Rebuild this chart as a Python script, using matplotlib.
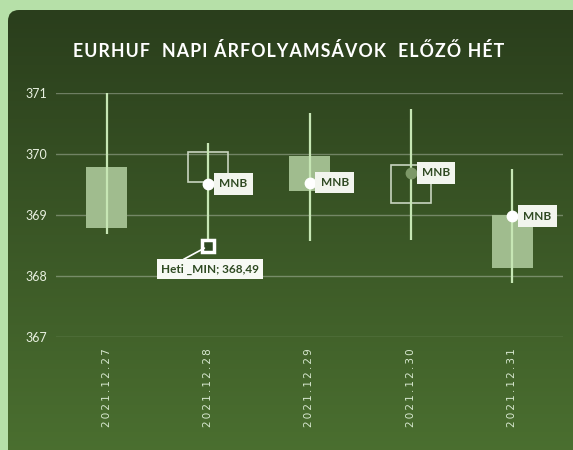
import numpy as np
import matplotlib
matplotlib.use("Agg")
import matplotlib.pyplot as plt
from matplotlib.colors import LinearSegmentedColormap
from matplotlib.patches import FancyBboxPatch

# ---------- data ----------
dates = ["2021.12.27", "2021.12.28", "2021.12.29", "2021.12.30", "2021.12.31"]
opens = [369.79, 369.54, 369.97, 369.20, 369.00]
closes = [368.79, 370.03, 369.40, 369.82, 368.13]
highs = [371.00, 370.18, 370.68, 370.74, 369.75]
lows = [368.69, 368.49, 368.57, 368.59, 367.88]
mnb = [np.nan, 369.51, 369.53, 369.69, 368.98]
week_min_idx = 1
week_min = 368.49

title = "EURHUF  NAPI ÁRFOLYAMSÁVOK  ELŐZŐ HÉT"
plt.rcParams["font.family"] = ["Lato", "DejaVu Sans"]

# ---------- figure + gradient panel ----------
fig = plt.figure(figsize=(5.73, 4.5), dpi=100, facecolor="#b6e0a8")
bg = fig.add_axes([0, 0, 1, 1])
grad = np.linspace(0, 1, 256).reshape(-1, 1)
cmap = LinearSegmentedColormap.from_list("g", ["#2a3e1c", "#4b7030"])
im = bg.imshow(grad, extent=(8, 600, 460, 10), aspect="auto", cmap=cmap)
panel = FancyBboxPatch((8, 10), 620, 480, boxstyle="round,pad=0,rounding_size=11",
                       transform=bg.transData)
im.set_clip_path(panel)
bg.set_xlim(0, 573); bg.set_ylim(450, 0)
bg.axis("off")

# title with a bit of letter spacing (hair spaces between letters)
fig.text(0.503, 0.887, "\u200a".join(title), color="white", fontsize=12.8,
         fontweight="bold", ha="center", va="center")

# ---------- chart ----------
ax = fig.add_axes([56 / 573, 1 - 337 / 450, 507 / 573, 244 / 450])
ax.set_facecolor("none")
x = np.arange(len(dates))
ax.set_xlim(-0.5, len(dates) - 0.5)
ax.set_ylim(367, 371)
ax.set_yticks([367, 368, 369, 370, 371])
ax.grid(axis="y", color="white", alpha=0.3, lw=1)
ax.set_axisbelow(True)
for s in ax.spines.values():
    s.set_visible(False)
ax.tick_params(length=0)
ax.tick_params(axis="y", colors="#e8f0e0", labelsize=9, pad=6)
ax.set_xticks(x)
ax.set_xticklabels(["\u2009".join(d) for d in dates], rotation=90, fontsize=7.5,
                   color="#d8e8d0", va="top", family="DejaVu Sans")
ax.tick_params(axis="x", pad=8)

# candles: filled = falling day, hollow = rising day
for i in x:
    o, c = opens[i], closes[i]
    if c < o:
        ax.bar(i, o - c, bottom=c, width=0.4, color="#a0bc8e", zorder=2)
    else:
        ax.bar(i, c - o, bottom=o, width=0.4, facecolor="none",
               edgecolor="#c8d4c0", lw=1.2, zorder=2)
ax.vlines(x, lows, highs, color="#c6e6b4", lw=1.6, zorder=3)

# MNB fixing points
for i in x:
    if np.isnan(mnb[i]):
        continue
    col = "#7d9868" if i == 3 else "white"
    ax.plot(i, mnb[i], "o", ms=7.5, color=col, zorder=4)
    ax.annotate("MNB", (i, mnb[i]), xytext=(11, 0), textcoords="offset pixels",
                ha="left", va="center", fontsize=8.5, fontweight="bold", color="#2f4a22",
                bbox=dict(boxstyle="square,pad=0.45", fc="#f2f5ee", ec="none"), zorder=5)

# weekly minimum callout
ax.plot(week_min_idx, week_min, "s", ms=9, mfc="#2f4a22", mec="white", mew=2.5, zorder=5)
ax.annotate(f"Heti _MIN; {week_min:.2f}".replace(".", ","), (week_min_idx, week_min),
            xytext=(2, -23), textcoords="offset pixels", ha="center", va="center",
            fontsize=8.5, fontweight="bold", color="#2f4a22",
            bbox=dict(boxstyle="square,pad=0.35", fc="#f7f9f4", ec="none"),
            arrowprops=dict(arrowstyle="-", color="white", lw=1.2, relpos=(0.15, 1.0),
                            shrinkA=0, shrinkB=3), zorder=5)

fig.savefig("out.png", dpi=100, facecolor=fig.get_facecolor())
